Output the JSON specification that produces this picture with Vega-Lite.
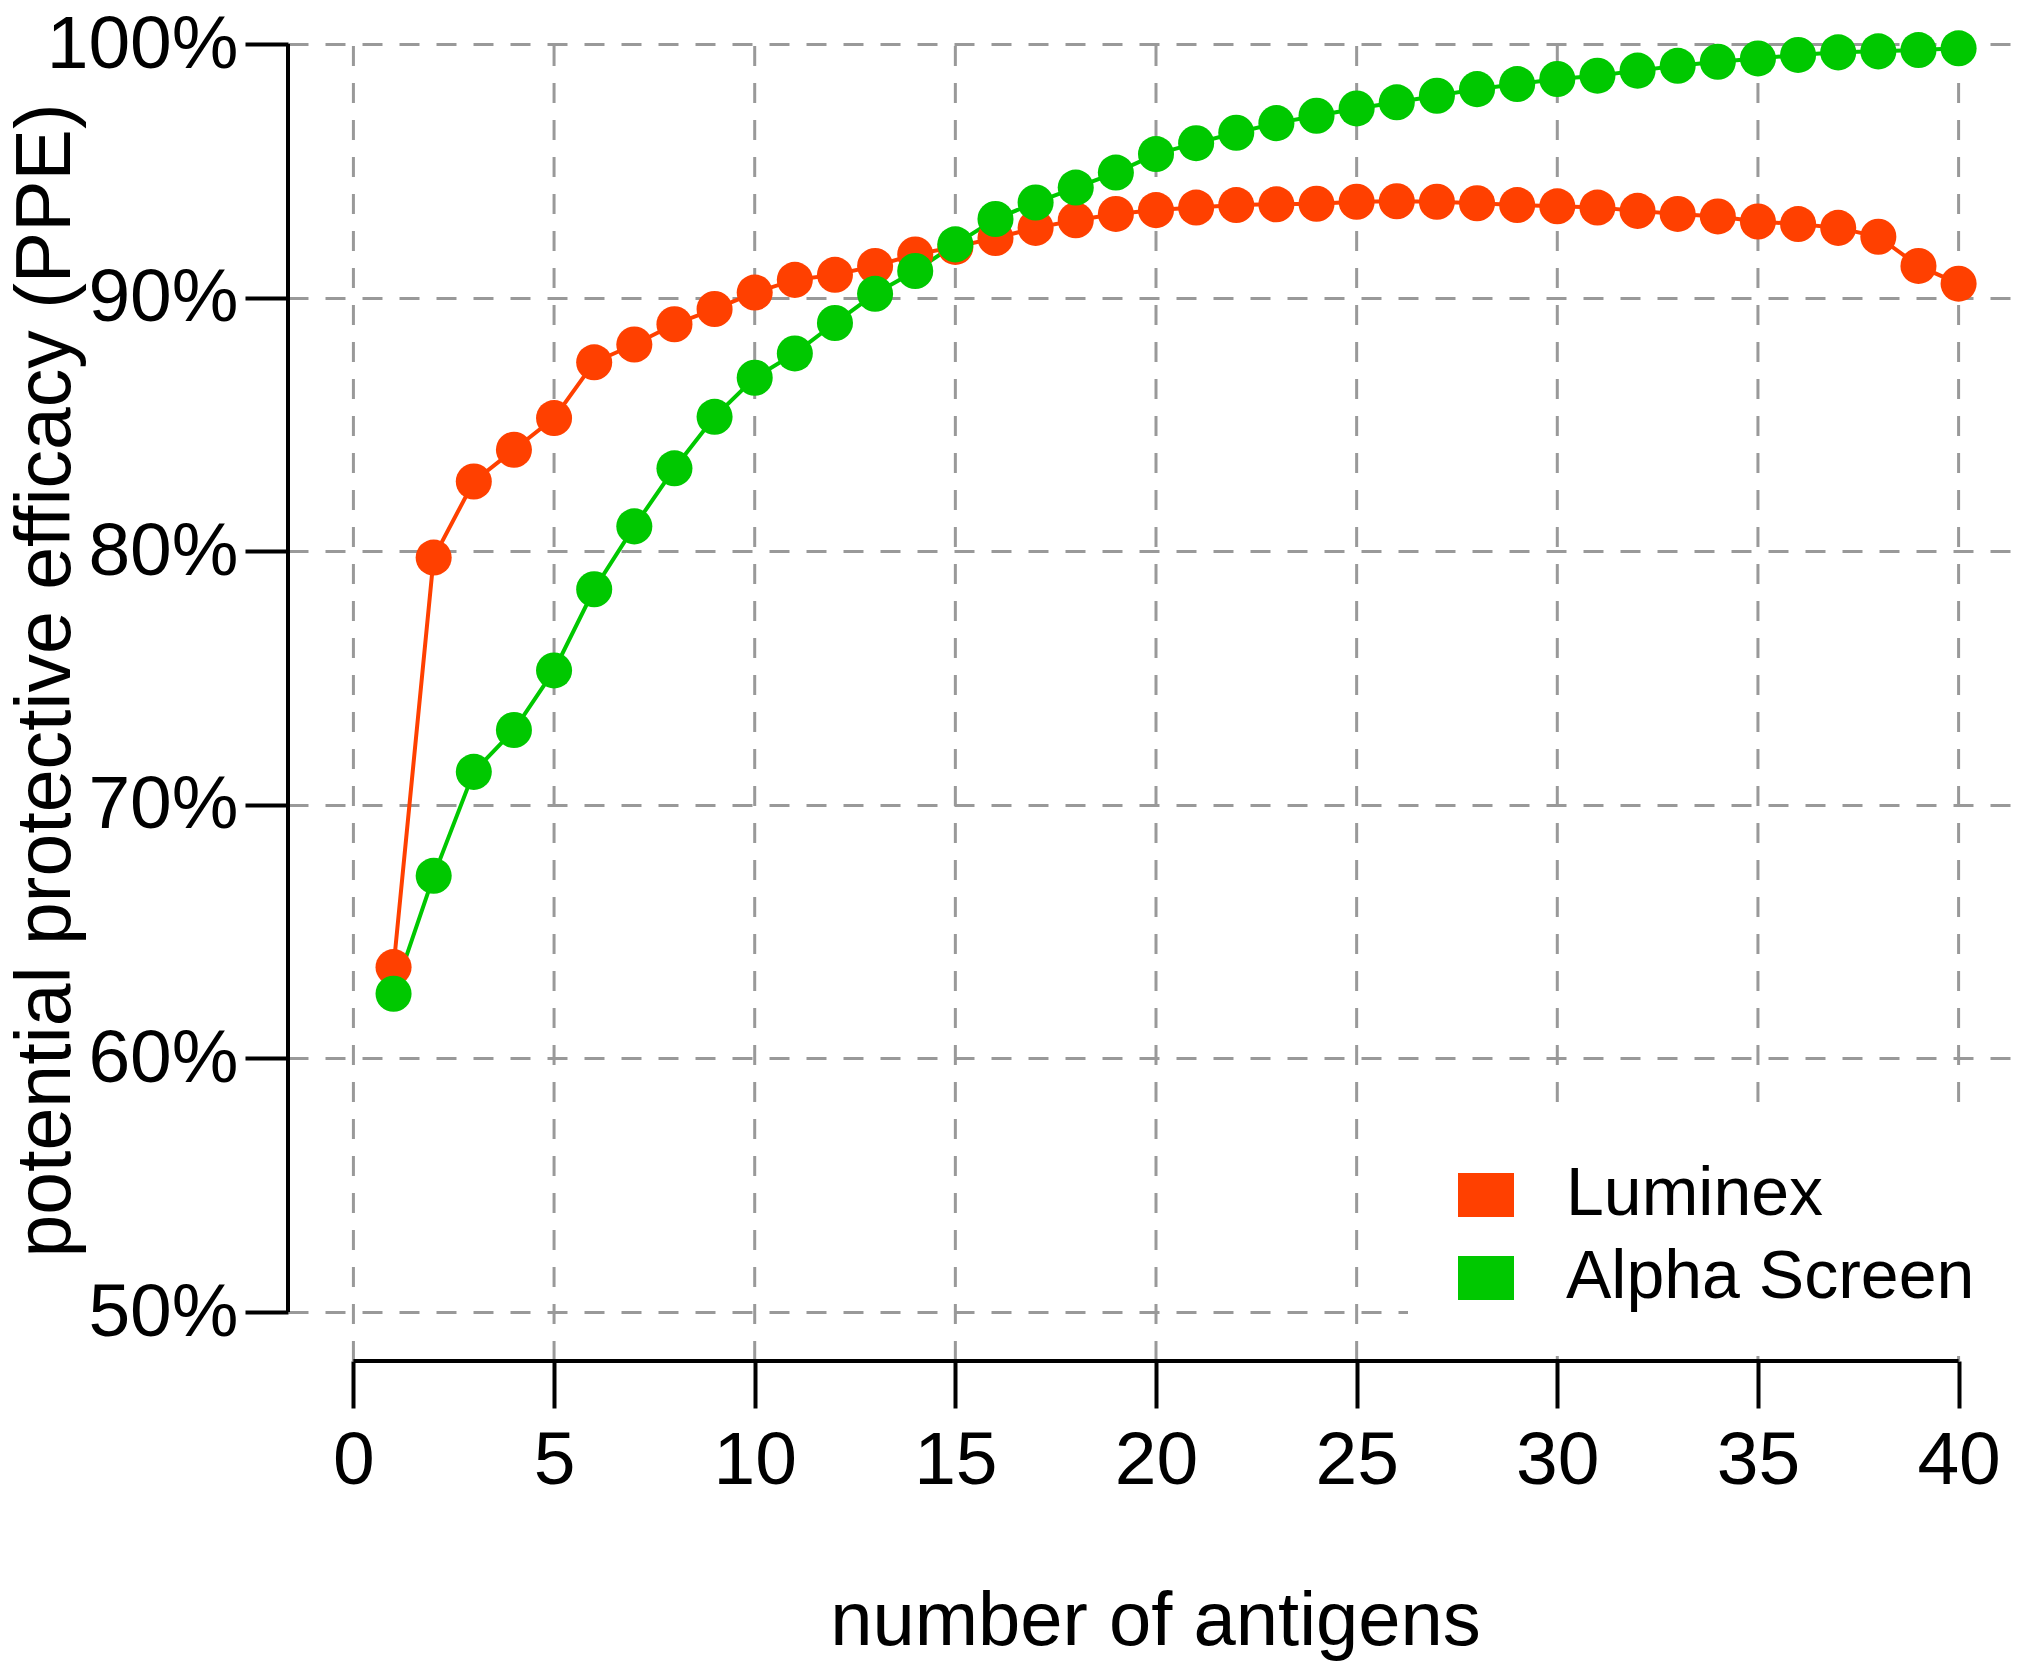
{
  "$schema": "https://vega.github.io/schema/vega-lite/v6.json",
  "width": 1734,
  "height": 1361,
  "autosize": {"type": "none"},
  "padding": {"left": 288, "top": 0, "right": 0, "bottom": 303},
  "background": "white",
  "config": {
    "view": {"stroke": null},
    "font": "Liberation Sans",
    "axis": {
      "domain": false,
      "gridColor": "#999999",
      "gridDash": [20, 17],
      "gridWidth": 3,
      "tickColor": "black",
      "tickWidth": 4,
      "labelColor": "black",
      "labelFont": "Liberation Sans",
      "labelFontSize": 75,
      "labelLimit": 0,
      "labelFlush": false,
      "labelOverlap": false,
      "titleColor": "black",
      "titleFont": "Liberation Sans",
      "titleFontSize": 76,
      "titleFontWeight": "normal",
      "titleLimit": 0
    }
  },
  "data": {
    "values": [
      {"antigens": 1, "method": "Luminex", "ppe": 63.6},
      {"antigens": 2, "method": "Luminex", "ppe": 79.75},
      {"antigens": 3, "method": "Luminex", "ppe": 82.75},
      {"antigens": 4, "method": "Luminex", "ppe": 84.0},
      {"antigens": 5, "method": "Luminex", "ppe": 85.25},
      {"antigens": 6, "method": "Luminex", "ppe": 87.45},
      {"antigens": 7, "method": "Luminex", "ppe": 88.15},
      {"antigens": 8, "method": "Luminex", "ppe": 88.95},
      {"antigens": 9, "method": "Luminex", "ppe": 89.55},
      {"antigens": 10, "method": "Luminex", "ppe": 90.2},
      {"antigens": 11, "method": "Luminex", "ppe": 90.7},
      {"antigens": 12, "method": "Luminex", "ppe": 90.9},
      {"antigens": 13, "method": "Luminex", "ppe": 91.25},
      {"antigens": 14, "method": "Luminex", "ppe": 91.7},
      {"antigens": 15, "method": "Luminex", "ppe": 92.0},
      {"antigens": 16, "method": "Luminex", "ppe": 92.35},
      {"antigens": 17, "method": "Luminex", "ppe": 92.75},
      {"antigens": 18, "method": "Luminex", "ppe": 93.05},
      {"antigens": 19, "method": "Luminex", "ppe": 93.3},
      {"antigens": 20, "method": "Luminex", "ppe": 93.45},
      {"antigens": 21, "method": "Luminex", "ppe": 93.55},
      {"antigens": 22, "method": "Luminex", "ppe": 93.65},
      {"antigens": 23, "method": "Luminex", "ppe": 93.68},
      {"antigens": 24, "method": "Luminex", "ppe": 93.7},
      {"antigens": 25, "method": "Luminex", "ppe": 93.78},
      {"antigens": 26, "method": "Luminex", "ppe": 93.8},
      {"antigens": 27, "method": "Luminex", "ppe": 93.78},
      {"antigens": 28, "method": "Luminex", "ppe": 93.72},
      {"antigens": 29, "method": "Luminex", "ppe": 93.65},
      {"antigens": 30, "method": "Luminex", "ppe": 93.6},
      {"antigens": 31, "method": "Luminex", "ppe": 93.55},
      {"antigens": 32, "method": "Luminex", "ppe": 93.42},
      {"antigens": 33, "method": "Luminex", "ppe": 93.3},
      {"antigens": 34, "method": "Luminex", "ppe": 93.2},
      {"antigens": 35, "method": "Luminex", "ppe": 93.0},
      {"antigens": 36, "method": "Luminex", "ppe": 92.9},
      {"antigens": 37, "method": "Luminex", "ppe": 92.75},
      {"antigens": 38, "method": "Luminex", "ppe": 92.4},
      {"antigens": 39, "method": "Luminex", "ppe": 91.25},
      {"antigens": 40, "method": "Luminex", "ppe": 90.55},
      {"antigens": 1, "method": "Alpha Screen", "ppe": 62.55},
      {"antigens": 2, "method": "Alpha Screen", "ppe": 67.2},
      {"antigens": 3, "method": "Alpha Screen", "ppe": 71.3},
      {"antigens": 4, "method": "Alpha Screen", "ppe": 72.95},
      {"antigens": 5, "method": "Alpha Screen", "ppe": 75.3},
      {"antigens": 6, "method": "Alpha Screen", "ppe": 78.5},
      {"antigens": 7, "method": "Alpha Screen", "ppe": 80.98},
      {"antigens": 8, "method": "Alpha Screen", "ppe": 83.27},
      {"antigens": 9, "method": "Alpha Screen", "ppe": 85.3},
      {"antigens": 10, "method": "Alpha Screen", "ppe": 86.84},
      {"antigens": 11, "method": "Alpha Screen", "ppe": 87.8},
      {"antigens": 12, "method": "Alpha Screen", "ppe": 89.0},
      {"antigens": 13, "method": "Alpha Screen", "ppe": 90.15},
      {"antigens": 14, "method": "Alpha Screen", "ppe": 91.05},
      {"antigens": 15, "method": "Alpha Screen", "ppe": 92.1},
      {"antigens": 16, "method": "Alpha Screen", "ppe": 93.1},
      {"antigens": 17, "method": "Alpha Screen", "ppe": 93.75},
      {"antigens": 18, "method": "Alpha Screen", "ppe": 94.34},
      {"antigens": 19, "method": "Alpha Screen", "ppe": 94.93},
      {"antigens": 20, "method": "Alpha Screen", "ppe": 95.66},
      {"antigens": 21, "method": "Alpha Screen", "ppe": 96.09},
      {"antigens": 22, "method": "Alpha Screen", "ppe": 96.5},
      {"antigens": 23, "method": "Alpha Screen", "ppe": 96.88},
      {"antigens": 24, "method": "Alpha Screen", "ppe": 97.17},
      {"antigens": 25, "method": "Alpha Screen", "ppe": 97.46},
      {"antigens": 26, "method": "Alpha Screen", "ppe": 97.7},
      {"antigens": 27, "method": "Alpha Screen", "ppe": 97.96},
      {"antigens": 28, "method": "Alpha Screen", "ppe": 98.22},
      {"antigens": 29, "method": "Alpha Screen", "ppe": 98.42},
      {"antigens": 30, "method": "Alpha Screen", "ppe": 98.62},
      {"antigens": 31, "method": "Alpha Screen", "ppe": 98.75},
      {"antigens": 32, "method": "Alpha Screen", "ppe": 98.95},
      {"antigens": 33, "method": "Alpha Screen", "ppe": 99.14},
      {"antigens": 34, "method": "Alpha Screen", "ppe": 99.3},
      {"antigens": 35, "method": "Alpha Screen", "ppe": 99.43},
      {"antigens": 36, "method": "Alpha Screen", "ppe": 99.57},
      {"antigens": 37, "method": "Alpha Screen", "ppe": 99.67},
      {"antigens": 38, "method": "Alpha Screen", "ppe": 99.71},
      {"antigens": 39, "method": "Alpha Screen", "ppe": 99.76},
      {"antigens": 40, "method": "Alpha Screen", "ppe": 99.83}
    ]
  },
  "layer": [
    {
      "data": {"values": [{"tick": 0}, {"tick": 5}, {"tick": 10}, {"tick": 15}, {"tick": 20}, {"tick": 25}, {"tick": 30}, {"tick": 35}, {"tick": 40}]},
      "mark": {"type": "rule", "color": "#999999", "strokeWidth": 3, "strokeDash": [20, 17]},
      "encoding": {
        "x": {"field": "tick", "type": "quantitative"},
        "y": {"datum": 48.07},
        "y2": {"datum": 100}
      }
    },
    {
      "mark": {"type": "line", "strokeWidth": 4},
      "encoding": {
        "x": {
          "field": "antigens",
          "type": "quantitative",
          "scale": {"domain": [-1.63, 41.58], "nice": false, "zero": false},
          "axis": {
            "values": [0, 5, 10, 15, 20, 25, 30, 35, 40],
            "title": "number of antigens",
            "grid": false,
            "tickSize": 47,
            "labelPadding": 75,
            "labelBaseline": "alphabetic",
            "titleY": 283,
            "titleBaseline": "alphabetic"
          }
        },
        "y": {
          "field": "ppe",
          "type": "quantitative",
          "scale": {"domain": [48.07, 101.735], "nice": false, "zero": false},
          "axis": {
            "values": [50, 60, 70, 80, 90, 100],
            "labelExpr": "datum.value + '%'",
            "title": "potential protective efficacy (PPE)",
            "grid": true,
            "tickSize": 43,
            "labelPadding": 7,
            "titleFontSize": 77,
            "titleX": -219,
            "titleY": 680,
            "titleAngle": -90,
            "titleAlign": "center",
            "titleBaseline": "alphabetic"
          }
        },
        "color": {
          "field": "method",
          "type": "nominal",
          "scale": {"domain": ["Luminex", "Alpha Screen"], "range": ["#ff4000", "#00c800"]},
          "legend": {
            "title": null,
            "orient": "none",
            "legendX": 1120,
            "legendY": 1117,
            "fillColor": "white",
            "padding": 44,
            "symbolType": "M-1,-0.786H1V0.786H-1Z",
            "symbolSize": 3136,
            "symbolStrokeWidth": 0,
            "symbolOpacity": 1,
            "labelFont": "Liberation Sans",
            "labelFontSize": 68,
            "labelColor": "black",
            "labelOffset": 46,
            "labelLimit": 0,
            "rowPadding": 15
          }
        }
      }
    },
    {
      "mark": {"type": "point", "shape": "circle", "filled": true, "size": 1300, "opacity": 1, "strokeWidth": 0},
      "encoding": {
        "x": {"field": "antigens", "type": "quantitative"},
        "y": {"field": "ppe", "type": "quantitative"},
        "color": {"field": "method", "type": "nominal"}
      }
    },
    {
      "data": {"values": [{}]},
      "mark": {"type": "rule", "color": "black", "strokeWidth": 4},
      "encoding": {
        "x": {"datum": -1.63},
        "y": {"datum": 50},
        "y2": {"datum": 100}
      }
    },
    {
      "data": {"values": [{}]},
      "mark": {"type": "rule", "color": "black", "strokeWidth": 4},
      "encoding": {
        "x": {"datum": 0},
        "x2": {"datum": 40},
        "y": {"datum": 48.07}
      }
    }
  ]
}
